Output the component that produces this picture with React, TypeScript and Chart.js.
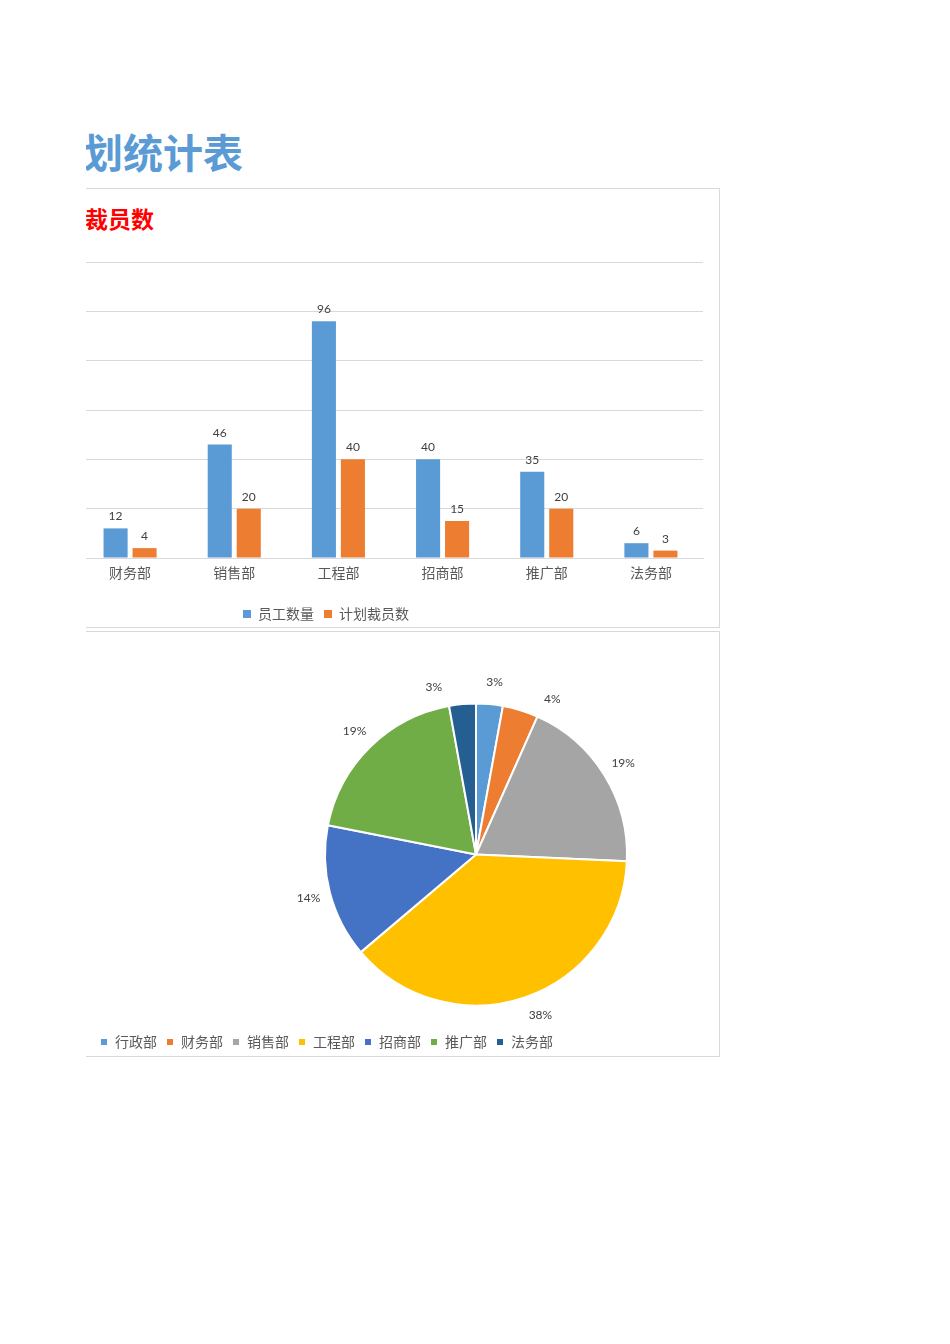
import { useEffect, useRef } from "react";
import { Chart, registerables } from "chart.js";

Chart.register(...registerables);

// bar chart data
const departments = ["财务部", "销售部", "工程部", "招商部", "推广部", "法务部"];
const staffCounts = [12, 46, 96, 40, 35, 6];
const layoffCounts = [4, 20, 40, 15, 20, 3];
const seriesNames = ["员工数量", "计划裁员数"];
const yTickValues = [0, 20, 40, 60, 80, 100, 120];

// pie chart data
const pieDepartments = ["行政部", "财务部", "销售部", "工程部", "招商部", "推广部", "法务部"];
const pieValues = [3, 4, 20, 40, 15, 20, 3];
const pieColors = ["#5B9BD5", "#ED7D31", "#A5A5A5", "#FFC000", "#4472C4", "#70AD47", "#255E91"];
// small angle shifts (degrees) like Excel's label collision moves
const pieLabelShift = [1, 9, 0, -3, 0, 0, -9];

const FONT = "Lato, 'Noto Sans CJK SC', sans-serif";
const CJK = "'Noto Sans CJK SC', sans-serif";

const barValueLabels = {
  id: "barValueLabels",
  afterDatasetsDraw(chart: any) {
    const ctx = chart.ctx;
    ctx.save();
    ctx.font = `12px ${FONT}`;
    ctx.fillStyle = "#404040";
    ctx.textAlign = "center";
    ctx.textBaseline = "alphabetic";
    chart.data.datasets.forEach((ds: any, i: number) => {
      chart.getDatasetMeta(i).data.forEach((bar: any, j: number) => {
        const { x, y } = bar.getProps(["x", "y"], true);
        ctx.fillText(String(ds.data[j]), x, y - 8);
      });
    });
    ctx.restore();
  },
};

const pieValueLabels = {
  id: "pieValueLabels",
  afterDatasetsDraw(chart: any) {
    const ctx = chart.ctx;
    const data = chart.data.datasets[0].data as number[];
    const total = data.reduce((a, b) => a + b, 0);
    ctx.save();
    ctx.font = `12px ${FONT}`;
    ctx.fillStyle = "#404040";
    ctx.textAlign = "center";
    ctx.textBaseline = "middle";
    chart.getDatasetMeta(0).data.forEach((arc: any, i: number) => {
      const { x, y, startAngle, endAngle, outerRadius } = arc.getProps(
        ["x", "y", "startAngle", "endAngle", "outerRadius"],
        true
      );
      const mid = (startAngle + endAngle) / 2 + (pieLabelShift[i] * Math.PI) / 180;
      const r = outerRadius + 22;
      const pct = Math.round((data[i] / total) * 100) + "%";
      ctx.fillText(pct, x + Math.cos(mid) * r, y + Math.sin(mid) * r);
    });
    ctx.restore();
  },
};

function BarChart() {
  const chartRef = useRef<HTMLCanvasElement>(null);
  const chartInstance = useRef<Chart | null>(null);

  useEffect(() => {
    if (!chartRef.current) return;
    if (chartInstance.current) chartInstance.current.destroy();
    const ctx = chartRef.current.getContext("2d");
    if (!ctx) return;

    chartInstance.current = new Chart(ctx, {
      type: "bar",
      data: {
        labels: departments,
        datasets: [
          {
            label: seriesNames[0],
            data: staffCounts,
            backgroundColor: "#5B9BD5",
            barPercentage: 0.83,
            categoryPercentage: 0.557,
          },
          {
            label: seriesNames[1],
            data: layoffCounts,
            backgroundColor: "#ED7D31",
            barPercentage: 0.83,
            categoryPercentage: 0.557,
          },
        ],
      },
      options: {
        animation: false,
        responsive: true,
        maintainAspectRatio: false,
        events: [],
        layout: { padding: { top: 12, right: 16, left: 18, bottom: 0 } },
        scales: {
          x: {
            grid: { display: false, drawTicks: false },
            border: { display: true, color: "#D9D9D9", width: 1 },
            ticks: {
              color: "#595959",
              font: { family: FONT, size: 14 },
              padding: 7,
            },
            afterFit: (scale: any) => {
              scale.height = 39;
            },
          },
          y: {
            min: yTickValues[0],
            max: yTickValues[yTickValues.length - 1],
            afterBuildTicks: (scale: any) => {
              scale.ticks = yTickValues.map((v) => ({ value: v }));
            },
            ticks: { display: false },
            grid: { color: "#D9D9D9", lineWidth: 1, drawTicks: false },
            border: { display: false },
            afterFit: (scale: any) => {
              scale.width = 129;
            },
          },
        },
        plugins: {
          legend: {
            position: "bottom",
            labels: {
              boxWidth: 8,
              boxHeight: 8,
              padding: 10,
              color: "#595959",
              font: { family: FONT, size: 14 },
            },
          },
          tooltip: { enabled: false },
        },
      },
      plugins: [barValueLabels],
    });

    return () => {
      if (chartInstance.current) {
        chartInstance.current.destroy();
        chartInstance.current = null;
      }
    };
  }, []);

  return <canvas ref={chartRef} />;
}

function PieChart() {
  const chartRef = useRef<HTMLCanvasElement>(null);
  const chartInstance = useRef<Chart | null>(null);

  useEffect(() => {
    if (!chartRef.current) return;
    if (chartInstance.current) chartInstance.current.destroy();
    const ctx = chartRef.current.getContext("2d");
    if (!ctx) return;

    chartInstance.current = new Chart(ctx, {
      type: "pie",
      data: {
        labels: pieDepartments,
        datasets: [
          {
            data: pieValues,
            backgroundColor: pieColors,
            borderColor: "#FFFFFF",
            borderWidth: 2,
            radius: 151,
          } as any,
        ],
      },
      options: {
        animation: false,
        responsive: true,
        maintainAspectRatio: false,
        events: [],
        layout: { padding: { top: 43, left: 160, right: 0, bottom: 0 } },
        plugins: {
          legend: {
            position: "bottom",
            align: "start",
            labels: {
              boxWidth: 8,
              boxHeight: 8,
              padding: 9,
              color: "#595959",
              font: { family: FONT, size: 14 },
            },
          },
          tooltip: { enabled: false },
        },
      },
      plugins: [pieValueLabels],
    });

    return () => {
      if (chartInstance.current) {
        chartInstance.current.destroy();
        chartInstance.current = null;
      }
    };
  }, []);

  return <canvas ref={chartRef} />;
}

// everything below is placed in page coordinates; the sheet is cut off at x = 86
export default function App() {
  const box = (top: number, height: number) => ({
    position: "absolute" as const,
    left: -70,
    top,
    width: 790,
    height,
    border: "1px solid #D9D9D9",
    boxSizing: "border-box" as const,
    background: "#FFFFFF",
  });

  return (
    <div
      style={{
        position: "absolute",
        left: 86,
        top: 0,
        width: 660,
        height: 1344,
        overflow: "hidden",
      }}
    >
      <div style={{ position: "absolute", left: -86, top: 0, width: 950, height: 1344 }}>
        <div
          style={{
            position: "absolute",
            left: -37,
            top: 131,
            fontFamily: CJK,
            fontWeight: 700,
            fontSize: 40,
            lineHeight: "40px",
            color: "#5B9BD5",
            whiteSpace: "nowrap",
          }}
        >
          裁员计划统计表
        </div>

        <div style={box(188, 440)} />
        <div
          style={{
            position: "absolute",
            left: 39,
            top: 207,
            fontFamily: CJK,
            fontWeight: 700,
            fontSize: 23,
            lineHeight: "23px",
            color: "#FF0000",
            whiteSpace: "nowrap",
          }}
        >
          计划裁员数
        </div>
        <div style={{ position: "absolute", left: -69, top: 250, width: 788, height: 381 }}>
          <BarChart />
        </div>

        <div style={box(631, 426)} />
        <div style={{ position: "absolute", left: -69, top: 640, width: 930, height: 419 }}>
          <PieChart />
        </div>
      </div>
    </div>
  );
}
